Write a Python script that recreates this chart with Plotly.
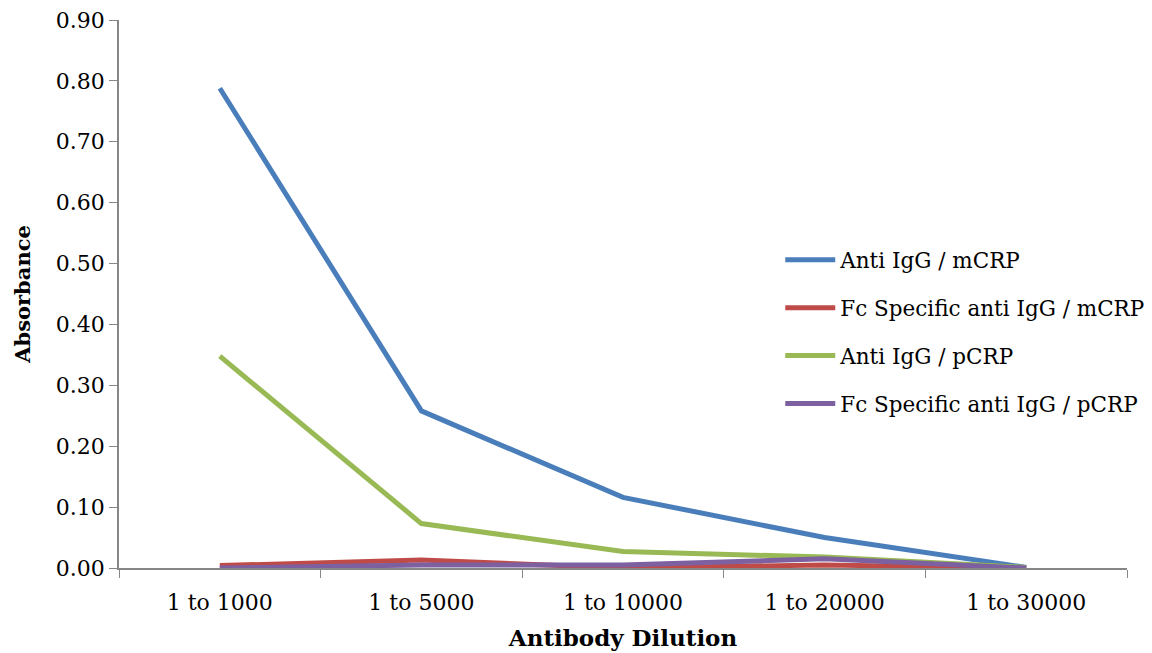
import plotly.graph_objects as go

dilutions = ["1 to 1000", "1 to 5000", "1 to 10000", "1 to 20000", "1 to 30000"]
anti_igg_mcrp = [0.788, 0.258, 0.116, 0.050, 0.001]
fc_anti_igg_mcrp = [0.004, 0.013, 0.000, 0.005, 0.000]
anti_igg_pcrp = [0.348, 0.073, 0.027, 0.018, 0.001]
fc_anti_igg_pcrp = [0.000, 0.005, 0.005, 0.015, 0.000]

series = [
    ("Anti IgG / mCRP", anti_igg_mcrp, "#4A7EBB"),
    ("Fc Specific anti IgG / mCRP", fc_anti_igg_mcrp, "#BE4B48"),
    ("Anti IgG / pCRP", anti_igg_pcrp, "#98B954"),
    ("Fc Specific anti IgG / pCRP", fc_anti_igg_pcrp, "#7D60A0"),
]

FONT = "DejaVu Serif"

fig = go.Figure()
for i, (name, vals, color) in enumerate(series):
    fig.add_trace(go.Scatter(
        x=dilutions, y=vals, name=name, mode="lines",
        legendgroup=f"g{i}",
        line=dict(color=color, width=5),
    ))

fig.update_layout(
    width=1152, height=653,
    margin=dict(l=119, r=25, t=20, b=85, autoexpand=False),
    paper_bgcolor="white", plot_bgcolor="white",
    font=dict(family=FONT, size=22, color="black"),
    showlegend=True,
    legend=dict(
        x=0.656, y=0.6, xanchor="left", yanchor="top",
        font=dict(family=FONT, size=21.5),
        tracegroupgap=17, itemwidth=50,
        bgcolor="rgba(0,0,0,0)",
    ),
    xaxis=dict(
        type="category", range=[-0.5, 4.5],
        showline=True, linecolor="#868686", linewidth=1.5,
        ticks="outside", tickson="boundaries", ticklen=8, tickcolor="#868686",
        showgrid=False, zeroline=False,
        tickfont=dict(family=FONT, size=22),
        ticklabelstandoff=14, automargin=False,
        title=dict(text="<b>Antibody Dilution</b>", font=dict(family=FONT, size=23), standoff=16),
    ),
    yaxis=dict(
        range=[0, 0.9], dtick=0.1, tickformat=".2f",
        showline=True, linecolor="#868686", linewidth=1.5,
        ticks="outside", ticklen=8, tickcolor="#868686",
        showgrid=False, zeroline=False,
        tickfont=dict(family=FONT, size=22), automargin=False,
        title=dict(text="<b>Absorbance</b>", font=dict(family=FONT, size=21), standoff=20),
    ),
)

fig.write_html("out.html")
